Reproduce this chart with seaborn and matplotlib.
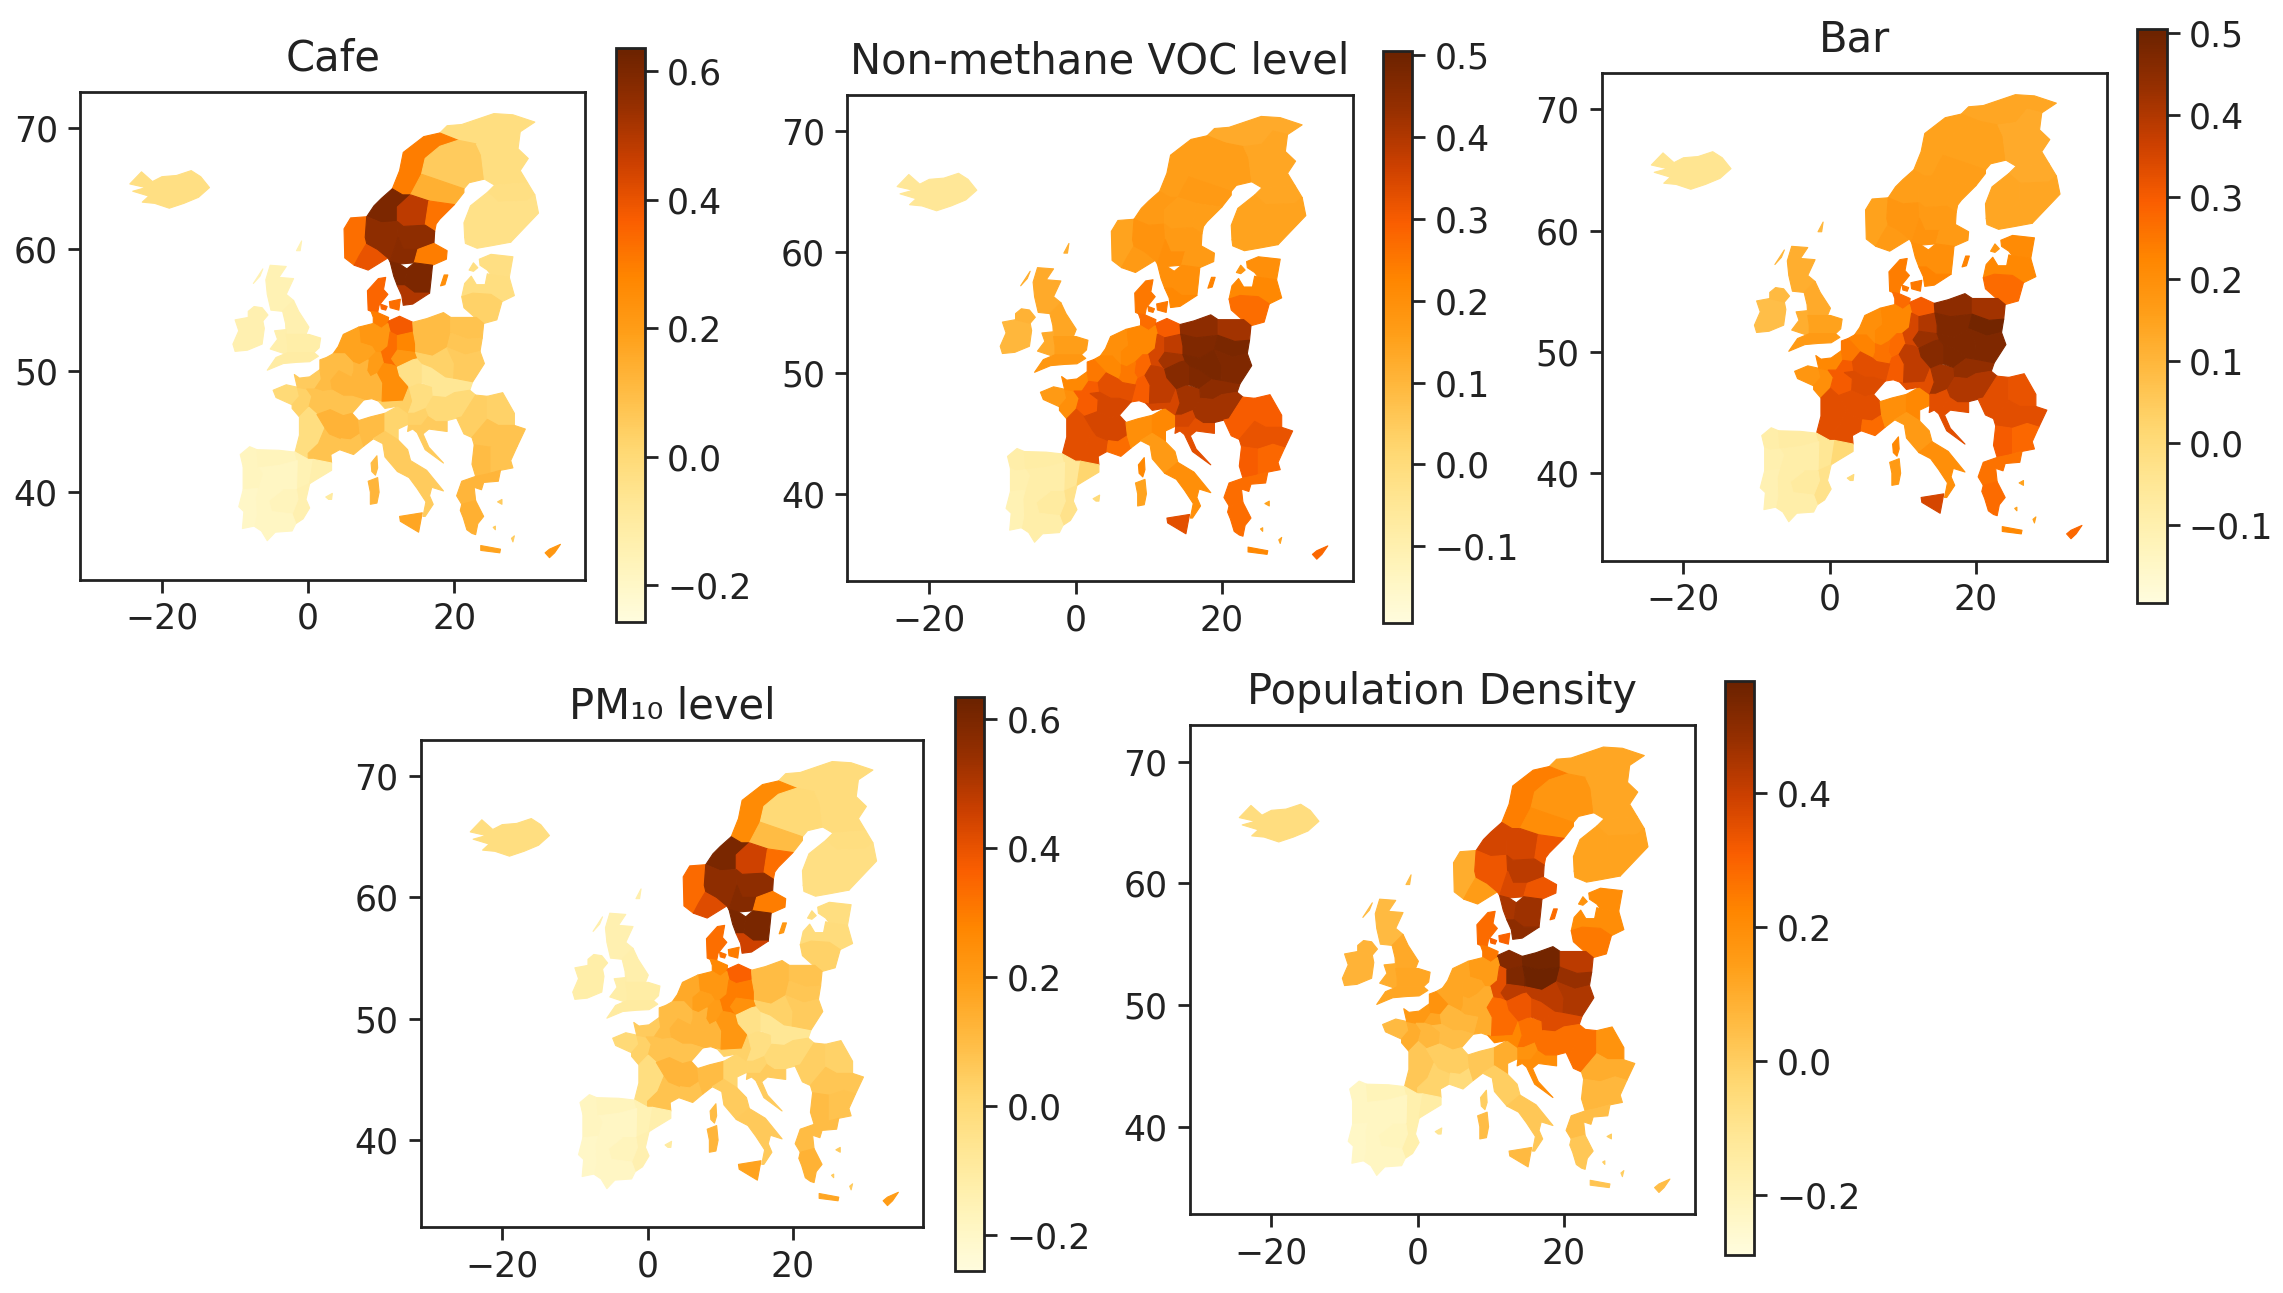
import matplotlib
matplotlib.use("Agg")
import matplotlib.pyplot as plt
from matplotlib.collections import PolyCollection
from matplotlib.colors import Normalize
import seaborn as sns

sns.set_style("ticks")
plt.rcParams['font.family'] = ['DejaVu Sans']
plt.rcParams['axes.edgecolor'] = '#222222'
plt.rcParams['xtick.color'] = '#222222'
plt.rcParams['ytick.color'] = '#222222'
plt.rcParams['text.color'] = '#222222'

# region outlines, lon / lat
outlines = {
    "iceland": [(-24.4,65.4),(-22.8,66.4),(-21.3,65.6),(-20,66.0),(-18,66.1),(-16,66.5),(-14.7,66.0),(-13.5,65.1),(-15,64.3),(-17,63.8),(-19,63.4),(-21,63.8),(-22.7,63.9),(-21.8,64.4),(-24,64.8),(-22.2,65.1)],
    "ireland": [(-10,51.6),(-8.3,51.7),(-6.3,52.2),(-6,53.5),(-6.2,54.1),(-8.2,54.4),(-10,54.2),(-9.5,53.3),(-10.3,52.2)],
    "n_ireland": [(-6.2,54.1),(-5.5,54.6),(-6.3,55.2),(-7.4,55.3),(-8.2,54.9),(-8.2,54.4)],
    "scotland": [(-5.1,55.0),(-3.5,54.9),(-2.0,55.8),(-3.0,56.3),(-2.0,57.6),(-4,57.7),(-3.0,58.6),(-5.2,58.7),(-5.8,57.5),(-5.6,56.3)],
    "n_england": [(-3.5,54.9),(-2,55.8),(-1.3,54.9),(0.1,53.6),(-0.3,53),(-3,53),(-3.1,53.9)],
    "wales": [(-3,53.4),(-4.6,53.3),(-4.2,52.6),(-5.2,51.8),(-3.2,51.4),(-2.8,51.5),(-2.8,52.2),(-3,53)],
    "midlands": [(-3,53),(-0.3,53),(0.1,53),(1.7,52.7),(1.5,51.9),(0.8,51.5),(-1.5,51.5),(-2.8,51.5),(-2.8,52.2)],
    "s_england": [(-2.8,51.5),(-1.5,51.5),(0.8,51.5),(1.4,51.2),(0.2,50.75),(-1.5,50.7),(-3.4,50.6),(-5.6,50.05),(-4.4,51.1)],
    "hebrides": [(-7.5,57.2),(-6.2,58.4),(-6.6,57.8)],
    "shetland": [(-1.6,59.9),(-0.9,60.7),(-1.1,59.9)],
    "no_finn": [(18,69.6),(19,70.2),(21,70.3),(25.4,71.2),(28,71.1),(31,70.5),(29,69.7),(27,70),(25.5,68.9),(23,68.7),(20.5,69)],
    "no_nord": [(11.5,65),(12.5,66.5),(13,68),(15.8,69.3),(18,69.6),(20.5,69),(18,68.5),(16,67.5),(15.5,66.2),(14,64.5),(12.9,64.5)],
    "no_trond": [(8,62.7),(9,63.6),(10,64.2),(11.5,65),(12.9,64.5),(14,64.5),(12.2,63.5),(12.2,62.3),(10,62.2)],
    "no_west": [(5,59.3),(4.9,61.7),(5.8,62.6),(8,62.7),(7.8,61),(8,60.5),(7,59.5),(6.3,58.7)],
    "no_south": [(6.3,58.7),(8.2,58.3),(10.9,59.3),(9.5,60),(8,60.5),(7,59.5)],
    "no_east": [(7.8,61),(8,62.7),(10,62.2),(12.2,62.3),(12.3,61),(11.2,59),(10.9,59.3),(9.5,60),(8,60.5)],
    "se_norrb": [(15.5,66.2),(16,67.5),(18,68.5),(20.5,69),(23,68.7),(23.7,67.8),(24.1,65.8),(22,65.5),(21.3,65)],
    "se_vast": [(14,64.5),(15.5,66.2),(21.3,65),(21.3,64.7),(20,63.7),(16.5,64)],
    "se_jamt": [(12.2,63.5),(14,64.5),(16.5,64),(16,62),(13,61.9),(12.2,62.3)],
    "se_vastn": [(16.5,64),(20,63.7),(18,62.5),(17.5,62.1),(17.3,61.5),(16,62)],
    "se_dala": [(12.2,62.3),(13,61.9),(16,62),(17.3,61.5),(17.2,60.5),(15,60),(13,60),(12.3,61)],
    "se_varm": [(12.3,61),(13,60),(15,60),(14.5,58.9),(12.5,58.8),(11.2,59)],
    "se_stock": [(15,60),(17.2,60.5),(19,59.9),(18.9,59.2),(17,58.7),(14.5,58.9)],
    "se_gbg": [(11.2,59),(12.5,58.8),(13.5,58.4),(13.2,57),(12.2,57),(11.7,57.8)],
    "se_ost": [(13.5,58.4),(14.5,58.9),(17,58.7),(16.8,57.5),(16.6,56.4),(14.5,56.4),(13.2,57)],
    "se_skane": [(12.2,57),(13.2,57),(14.5,56.4),(16.6,56.4),(14.3,55.5),(13,55.4),(12.8,56.2)],
    "gotland": [(18.1,57),(18.6,57.9),(19.1,57.9),(18.7,57.1)],
    "fi_lapp": [(23.7,67.8),(23,68.7),(25.5,68.9),(27,70),(29,69.7),(28.7,68.3),(30.1,67.5),(29,66.5),(30,65.5),(25.5,65.3),(24.1,65.8)],
    "fi_north": [(25.5,65.3),(30,65.5),(31,64.5),(30,64),(26,63.9),(24.5,64.7)],
    "fi_west": [(21.4,61),(21.3,62.2),(22.2,63.6),(24.5,64.7),(26,63.9),(26,62.5),(24.5,61.5)],
    "fi_east": [(26,62.5),(26,63.9),(30,64),(31,64.5),(31.5,63),(27.7,60.6),(26.5,61.3)],
    "fi_south": [(21.4,61),(24.5,61.5),(26,62.5),(26.5,61.3),(27.7,60.6),(25,60.3),(23.1,60.1),(21.5,60.5)],
    "estonia": [(23.4,59.2),(25,59.6),(28,59.4),(27.5,57.7),(25,57.9),(24.5,58.3),(23.5,58.7)],
    "saaremaa": [(22,58.3),(22.6,58.9),(23.2,58.5),(22.6,58.2)],
    "latvia": [(21,56.1),(21.4,57.2),(22.3,57.8),(23,57.1),(24.2,57.1),(24.5,58),(25,57.9),(27.5,57.7),(28.2,56.2),(26.5,55.7),(25,56.3),(22.5,56.4)],
    "lithuania": [(21,56.1),(22.5,56.4),(25,56.3),(26.5,55.7),(25.8,54.2),(24,53.9),(22.8,54.4),(21.3,55.2)],
    "jutland": [(8.2,55),(8.1,56.6),(9.6,57.6),(10.6,57.7),(10.3,56.7),(10.9,56.3),(9.7,55.4),(9.5,54.8),(8.6,54.9)],
    "zealand": [(11.1,55.7),(12.6,55.9),(12.4,55),(11.2,55.2)],
    "funen": [(9.9,55.5),(10.8,55.3),(10.6,55),(10,55.1)],
    "de_sh": [(8.6,54.9),(9.5,54.8),(11,54.4),(10.9,53.9),(10,53.5),(8.9,53.9),(8.9,54.4)],
    "de_mv": [(10.9,53.9),(11,54.1),(12.5,54.5),(14.3,54),(14.4,53.2),(12.2,52.9),(11.2,53.2)],
    "de_ni": [(6.9,53.6),(8.9,53.9),(10,53.5),(10.9,53.9),(11.2,53.2),(10.9,52),(9.9,51.5),(9.2,51.5),(8.7,52),(7.1,52.3)],
    "de_nrw": [(7.1,52.3),(8.7,52),(9.2,51.5),(8.2,50.9),(7,50.5),(6.1,50.7),(6.1,51.8)],
    "de_st": [(11.2,53.2),(12.2,52.9),(12.2,51.7),(11.4,51),(12.2,50.3),(11.4,50.5),(10.3,50.6),(9.9,51.5),(10.9,52)],
    "de_bb": [(12.2,52.9),(14.4,53.2),(14.7,52.2),(14.7,51.5),(12.2,51.7)],
    "de_sn": [(12.2,51.7),(14.7,51.5),(15,51),(14.3,50.9),(12.2,50.3),(11.4,51)],
    "de_he": [(9.2,51.5),(9.9,51.5),(10.3,50.6),(9.5,49.8),(8.5,49.5),(8,50),(8.2,50.9)],
    "de_rp": [(6.1,50.7),(7,50.5),(8.2,50.9),(8,50),(8.5,49.5),(8.2,49),(6.4,49.2),(5.8,49.5),(6.1,50)],
    "de_bw": [(8.2,49),(8.5,49.5),(9.5,49.8),(10.2,49),(10.1,47.4),(8.7,47.7),(7.6,47.6)],
    "de_by": [(9.5,49.8),(10.3,50.6),(11.4,50.5),(12.2,50.3),(12.5,49.6),(13.8,48.7),(13,47.5),(10.1,47.4),(10.2,49)],
    "nl": [(3.4,51.4),(4.1,52),(4.8,53),(6.9,53.6),(7.1,52.3),(6.1,51.8),(6.1,50.7),(5,51.4)],
    "be": [(2.5,51.1),(3.4,51.4),(5,51.4),(6.1,50.7),(6.1,50),(5.8,49.5),(4.2,50)],
    "fr_bre": [(-4.8,48.4),(-3,48.85),(-1.5,48.65),(-1.2,47.9),(-2.2,47.2),(-4.4,47.8)],
    "fr_pdl": [(-1.5,48.65),(-0.2,48.5),(0.5,47.9),(0.1,47),(-1.2,46.2),(-2.2,46.9),(-2.2,47.2),(-1.2,47.9)],
    "fr_nor": [(-1.9,49.7),(-1.2,49.4),(0.2,49.5),(1.6,50.1),(1.8,49.3),(0.9,48.5),(-0.2,48.5),(-1.5,48.65)],
    "fr_nord": [(1.6,50.1),(1.6,50.9),(2.5,51.1),(4.2,50),(3.1,49.2),(1.8,49.3)],
    "fr_idf": [(1.8,49.3),(3.1,49.2),(3.3,48.4),(2,48.3),(0.9,48.5)],
    "fr_centre": [(-0.2,48.5),(0.9,48.5),(2,48.3),(3.1,47.8),(3,46.8),(1.2,46.4),(0.1,47),(0.5,47.9)],
    "fr_est": [(3.1,49.2),(4.2,50),(5.8,49.5),(6.4,49.2),(8.2,49),(7.6,47.6),(6,47.9),(4.8,47.9),(3.3,48.4)],
    "fr_bourg": [(3.3,48.4),(4.8,47.9),(6,47.9),(7.6,47.6),(6,46.5),(4.8,46.3),(3,46.8),(3.1,47.8),(2,48.3)],
    "fr_aq": [(-1.2,46.2),(0.1,47),(1.2,46.4),(2.3,45.3),(1.4,44),(0,43.2),(0,42.7),(-1.8,43.3),(-1.2,44.7)],
    "fr_occ": [(0,43.2),(0,42.7),(3.2,42.4),(3.1,43.1),(4.3,43.5),(4.5,44.4),(2.9,44.8),(2.3,45.3),(1.4,44)],
    "fr_ra": [(1.2,46.4),(3,46.8),(4.8,46.3),(6,46.5),(6.9,45.9),(7.1,44.8),(5.8,44.3),(4.5,44.4),(2.9,44.8),(2.3,45.3)],
    "fr_paca": [(4.5,44.4),(5.8,44.3),(7.1,44.8),(7.6,43.8),(6.2,43.1),(4.3,43.5)],
    "corsica": [(8.6,42.4),(9.4,43),(9.5,42),(9.2,41.4),(8.7,41.7)],
    "es_gal": [(-9.3,43.1),(-8,43.75),(-7,43.5),(-6.8,42),(-8.2,41.9),(-8.9,42.1)],
    "es_n": [(-7,43.5),(-4,43.45),(-1.8,43.3),(-1.5,42.6),(-4,42.2),(-6.8,42)],
    "es_ara": [(-1.8,43.3),(0,42.7),(0.7,42.7),(0.2,40.7),(-1.6,40.2),(-1.5,42.6)],
    "es_cat": [(0.7,42.7),(3.2,42.4),(3.2,41.8),(1,41),(0.2,40.7)],
    "es_cyl": [(-6.8,42),(-4,42.2),(-1.5,42.6),(-1.6,40.2),(-3.5,40.2),(-6.9,40.3),(-6.3,41.5)],
    "es_val": [(0.2,40.7),(-0.3,39.4),(0.2,38.7),(-0.7,37.8),(-1.7,37.4),(-2.2,38.2),(-1.4,39.4),(-1.6,40.2)],
    "es_cm": [(-1.6,40.2),(-1.4,39.4),(-2.2,38.2),(-5,38.4),(-5.4,39.3),(-3.5,40.2)],
    "es_ext": [(-6.9,40.3),(-3.5,40.2),(-5.4,39.3),(-5,38.4),(-7.1,38.1),(-7.2,39.6)],
    "es_and": [(-7.1,38.1),(-5,38.4),(-2.2,38.2),(-1.7,37.4),(-2.2,36.8),(-4.5,36.7),(-5.6,36),(-6.4,36.8),(-7.4,37.2)],
    "balearic": [(2.4,39.6),(3.3,39.9),(3.2,39.4),(2.8,39.4)],
    "pt_n": [(-8.9,42.1),(-8.2,41.9),(-6.8,42),(-6.3,41.5),(-6.9,40.3),(-8.9,40.2)],
    "pt_s": [(-8.9,40.2),(-6.9,40.3),(-7.2,39.6),(-7.1,38.1),(-7.4,37.2),(-9,37),(-8.8,38.4),(-9.5,38.8)],
    "it_nw": [(6.9,45.9),(8.5,46.2),(10.5,46.5),(10.5,45),(8.9,44.4),(7.6,43.8),(7.1,44.8)],
    "it_ne": [(10.5,46.5),(12.3,47.1),(13.7,46.5),(13.7,45.6),(12.3,45.2),(12.3,44.3),(10.5,45)],
    "it_c": [(8.9,44.4),(10.5,45),(12.3,44.3),(13.6,43.5),(14,42.6),(12.2,41.7),(10.5,42.9),(10.2,44)],
    "it_s": [(12.2,41.7),(14,42.6),(16.2,41.8),(18.5,40.1),(16.9,40.4),(16.6,39.7),(17.1,39),(16,38),(15.7,38),(16.1,39.2),(14.9,40.3),(13.8,41.2)],
    "sardinia": [(8.2,40.9),(9.5,41.2),(9.7,40),(9.4,39.1),(8.5,39),(8.5,40)],
    "sicily": [(12.5,38),(15.6,38.3),(15.1,36.7),(12.6,37.6)],
    "at_w": [(9.6,47.5),(10.1,47.4),(13,47.5),(13.8,48.7),(14.3,47.5),(13.7,46.5),(12.3,47.1),(10.5,46.9)],
    "at_e": [(13.8,48.7),(15,49),(17,48.7),(17.1,47.9),(16.1,46.9),(14.5,46.5),(13.7,46.5),(14.3,47.5)],
    "si": [(13.7,46.5),(14.5,46.5),(16.1,46.9),(16.5,46.3),(15.5,45.5),(13.7,45.5)],
    "hr": [(15.5,45.5),(16.5,46.3),(17.5,45.9),(19,45.9),(19,45),(16.5,45.2),(15.7,44.8),(16.5,43.7),(18.5,42.4),(16,43.5),(14.9,44.9),(14.3,45.2),(13.6,45),(13.7,45.5)],
    "cz_w": [(12.2,50.3),(14.3,50.9),(15,51),(15.6,50.6),(15.6,49),(15,49),(13.8,48.7),(12.5,49.6)],
    "cz_e": [(15.6,50.6),(16.9,50.3),(18.8,49.5),(17,48.7),(15.6,49)],
    "sk": [(17,48.7),(18.8,49.5),(19.9,49.4),(22.5,49.1),(22.1,48.4),(20,48.2),(18.8,47.8),(17.1,47.9)],
    "hu": [(16.1,46.9),(17.1,47.9),(18.8,47.8),(20,48.2),(22.1,48.4),(22.9,48),(21,46.2),(20.3,46.1),(19,45.9),(17.5,45.9),(16.5,46.3)],
    "pl_pom": [(14.3,54),(16.2,54.3),(18.5,54.8),(19.5,54.4),(19.5,53.1),(16.5,52.9),(14.4,53.2)],
    "pl_ne": [(19.5,54.4),(23,54.4),(24,53.9),(23.8,52.7),(21.8,52.6),(19.5,53.1)],
    "pl_wlkp": [(14.4,53.2),(16.5,52.9),(19.5,53.1),(19,51.9),(17,51.2),(14.7,51.5),(14.7,52.2)],
    "pl_mazo": [(19.5,53.1),(21.8,52.6),(23.8,52.7),(23.5,51.6),(21.5,51.3),(19,51.9)],
    "pl_sl": [(14.7,51.5),(15,51),(15.6,50.6),(16.9,50.3),(18.8,49.5),(19.9,49.4),(20,50.6),(19,51.9),(17,51.2)],
    "pl_se": [(19,51.9),(21.5,51.3),(23.5,51.6),(24.1,50.6),(22.5,49.1),(19.9,49.4),(20,50.6)],
    "ro_w": [(20.3,46.1),(21,46.2),(22.9,48),(24.5,47.9),(24.5,46),(22.4,44.5),(21.3,44.8)],
    "ro_ne": [(24.5,47.9),(26.6,48.2),(28.2,46.5),(28.2,45.5),(26,45.5),(24.5,46)],
    "ro_s": [(22.4,44.5),(24.5,46),(26,45.5),(28.2,45.5),(29.7,45.2),(28.6,43.8),(27,44.1),(25,43.7),(22.7,43.9)],
    "bg_w": [(22.7,43.9),(25,43.7),(25,41.6),(24.5,41.5),(22.9,41.3),(22.4,42.3)],
    "bg_e": [(25,43.7),(27,44.1),(28.6,43.8),(27.7,42.6),(28,42),(26.3,41.8),(25,41.6)],
    "gr_n": [(20.3,39.7),(21,40.9),(22.9,41.3),(24.5,41.5),(26.3,41.8),(26,40.9),(24,40.8),(23.7,40.2),(22.7,40.4),(22.9,39.3),(21,39)],
    "gr_s": [(21,39),(22.9,39.3),(24,38),(23.2,37.4),(22.9,36.5),(22.4,36.6),(21.7,36.9),(21.2,37.9),(20.8,38.5)],
    "crete": [(23.6,35.6),(26.3,35.3),(26.2,35),(23.6,35.2)],
    "cyprus": [(32.4,35),(33,35.3),(34.5,35.7),(33.7,35),(33,34.6)],
    "rhodes": [(27.8,36.2),(28.2,36.4),(28,35.9)],
    "lesbos": [(25.9,39.2),(26.5,39.4),(26.5,39)],
    "naxos": [(25.3,37.1),(25.6,37.2),(25.6,36.9)],
}

cafe = [-0.03,
        -0.14, -0.14, -0.15, -0.14, -0.13, -0.12, -0.11, -0.15, -0.15,
        -0.02, 0.30, 0.60, 0.33, 0.40, 0.56,
        0.05, 0.14, 0.48, 0.32, 0.56, 0.57, 0.30, 0.60, 0.60, 0.50, 0.25,
        -0.02, -0.03, -0.04, -0.04, -0.04,
        -0.03, -0.03, -0.02, 0.03,
        0.35, 0.33, 0.35,
        0.30, 0.38, 0.22, 0.18, 0.33, 0.28, 0.22, 0.20, 0.12, 0.12, 0.25,
        0.18, 0.10,
        0.00, 0.03, 0.05, 0.10, 0.10, 0.08, 0.12, 0.08, -0.02, 0.08, 0.13, 0.08, 0.10,
        -0.18, -0.17, -0.15, -0.13, -0.19, -0.14, -0.17, -0.19, -0.19, -0.10, -0.18, -0.20,
        0.10, 0.02, 0.05, 0.05, 0.12, 0.17,
        0.04, -0.02, 0.03, 0.05,
        -0.04, -0.07, -0.07, 0.00,
        0.10, 0.08, 0.10, 0.07, 0.03, 0.05,
        0.04, 0.03, 0.08, 0.10, 0.08,
        0.12, 0.14, 0.18, 0.22, 0.05, 0.05, 0.05]

voc = [-0.05,
       0.10, 0.11, 0.13, 0.14, 0.13, 0.16, 0.18, 0.12, 0.12,
       0.13, 0.16, 0.17, 0.15, 0.17, 0.19,
       0.16, 0.17, 0.16, 0.16, 0.17, 0.20, 0.17, 0.20, 0.20, 0.22, 0.23,
       0.14, 0.14, 0.15, 0.15, 0.15,
       0.20, 0.18, 0.22, 0.27,
       0.25, 0.25, 0.25,
       0.27, 0.30, 0.22, 0.22, 0.35, 0.38, 0.42, 0.28, 0.25, 0.30, 0.38,
       0.20, 0.22,
       0.17, 0.20, 0.22, 0.25, 0.30, 0.30, 0.33, 0.35, 0.33, 0.33, 0.35, 0.27, 0.22,
       -0.09, -0.08, -0.05, 0.02, -0.09, -0.03, -0.07, -0.09, -0.09, 0.00, -0.10, -0.11,
       0.20, 0.22, 0.17, 0.20, 0.15, 0.33,
       0.35, 0.42, 0.35, 0.33,
       0.46, 0.47, 0.45, 0.42,
       0.45, 0.42, 0.47, 0.48, 0.48, 0.47,
       0.30, 0.30, 0.32, 0.30, 0.28,
       0.27, 0.27, 0.22, 0.28, 0.15, 0.15, 0.15]

bar = [-0.04,
       0.08, 0.09, 0.12, 0.13, 0.12, 0.15, 0.17, 0.10, 0.10,
       0.14, 0.15, 0.16, 0.15, 0.17, 0.18,
       0.15, 0.16, 0.16, 0.16, 0.17, 0.19, 0.17, 0.20, 0.20, 0.23, 0.23,
       0.13, 0.13, 0.14, 0.14, 0.14,
       0.21, 0.18, 0.22, 0.27,
       0.24, 0.25, 0.25,
       0.27, 0.30, 0.22, 0.22, 0.35, 0.40, 0.43, 0.27, 0.26, 0.30, 0.38,
       0.20, 0.23,
       0.18, 0.20, 0.22, 0.25, 0.30, 0.30, 0.33, 0.34, 0.33, 0.33, 0.33, 0.27, 0.22,
       -0.09, -0.08, -0.05, 0.01, -0.09, -0.03, -0.07, -0.09, -0.09, 0.00, -0.10, -0.11,
       0.20, 0.22, 0.17, 0.20, 0.17, 0.35,
       0.33, 0.42, 0.33, 0.33,
       0.46, 0.47, 0.44, 0.40,
       0.45, 0.42, 0.47, 0.49, 0.47, 0.47,
       0.33, 0.32, 0.33, 0.30, 0.28,
       0.26, 0.27, 0.22, 0.28, 0.15, 0.15, 0.15]

pm10 = [-0.02,
        -0.12, -0.12, -0.14, -0.13, -0.12, -0.11, -0.10, -0.13, -0.13,
        -0.01, 0.26, 0.60, 0.34, 0.42, 0.56,
        0.00, 0.10, 0.45, 0.33, 0.56, 0.58, 0.30, 0.60, 0.60, 0.45, 0.22,
        -0.01, -0.02, -0.03, -0.03, -0.03,
        -0.02, -0.02, -0.01, 0.03,
        0.33, 0.30, 0.32,
        0.27, 0.36, 0.22, 0.19, 0.30, 0.30, 0.24, 0.20, 0.12, 0.12, 0.22,
        0.16, 0.10,
        0.00, 0.03, 0.05, 0.10, 0.10, 0.08, 0.12, 0.08, -0.02, 0.08, 0.12, 0.08, 0.10,
        -0.18, -0.17, -0.15, -0.13, -0.19, -0.14, -0.17, -0.19, -0.19, -0.10, -0.18, -0.20,
        0.10, 0.02, 0.05, 0.06, 0.12, 0.18,
        0.03, -0.03, 0.02, 0.05,
        -0.04, -0.07, -0.07, 0.00,
        0.10, 0.08, 0.10, 0.07, 0.03, 0.05,
        0.04, 0.03, 0.07, 0.10, 0.08,
        0.10, 0.13, 0.17, 0.20, 0.05, 0.05, 0.05]

pop_density = [-0.06,
               0.08, 0.08, 0.06, 0.11, 0.10, 0.12, 0.12, 0.05, 0.05,
               0.12, 0.24, 0.38, 0.10, 0.15, 0.33,
               0.17, 0.20, 0.38, 0.33, 0.42, 0.37, 0.33, 0.45, 0.47, 0.50, 0.28,
               0.12, 0.12, 0.13, 0.13, 0.13,
               0.20, 0.18, 0.20, 0.25,
               0.28, 0.30, 0.30,
               0.25, 0.52, 0.15, 0.12, 0.35, 0.53, 0.42, 0.10, 0.10, 0.10, 0.28,
               0.12, 0.12,
               0.06, 0.10, 0.16, 0.18, 0.12, 0.07, 0.07, 0.05, 0.02, -0.02, 0.00, -0.05, 0.00,
               -0.22, -0.20, -0.17, -0.15, -0.22, -0.17, -0.21, -0.22, -0.22, -0.10, -0.22, -0.23,
               0.02, 0.10, 0.00, 0.02, 0.05, 0.06,
               0.22, 0.27, 0.18, 0.20,
               0.33, 0.36, 0.36, 0.27,
               0.55, 0.42, 0.56, 0.48, 0.42, 0.44,
               0.27, 0.18, 0.10, 0.07, 0.07,
               0.05, 0.02, 0.03, 0.05, 0.00, 0.00, 0.00]

# title, values, colour range, colourbar ticks
panel_titles = ["Cafe", "Non-methane VOC level", "Bar", "PM₁₀ level", "Population Density"]
panel_values = [cafe, voc, bar, pm10, pop_density]
panel_ranges = [(-0.257, 0.636), (-0.194, 0.505), (-0.195, 0.505), (-0.256, 0.634), (-0.289, 0.567)]
panel_ticks = [[-0.2, 0.0, 0.2, 0.4, 0.6],
               [-0.1, 0.0, 0.1, 0.2, 0.3, 0.4, 0.5],
               [-0.1, 0.0, 0.1, 0.2, 0.3, 0.4, 0.5],
               [-0.2, 0.0, 0.2, 0.4, 0.6],
               [-0.2, 0.0, 0.2, 0.4]]

# colour ramp sampled from the reference's colourbar
ramp_colors = ["#FFFCDD", "#FFF4BA", "#FFE898", "#FFD872", "#FFBC44", "#FFA01A",
               "#FF8600", "#FA5E00", "#CC4000", "#962F00", "#6B2200"]

W, H = 1568.0, 888.0

# map box (x0, y0, x1, y1) and colourbar box, in the reference's picture coordinates
map_boxes = [(55, 63, 402, 398), (582, 65, 929, 399), (1100, 50, 1447, 385),
             (289, 508, 634, 843), (817, 498, 1164, 834)]
bar_boxes = [(423, 33, 443, 427), (950, 35, 970, 428), (1468, 20, 1488, 414),
             (656, 479, 676, 873), (1185, 468, 1205, 862)]


def add_axes(fig, box):
    x0, y0, x1, y1 = box
    return fig.add_axes([x0 / W, 1 - y1 / H, (x1 - x0) / W, (y1 - y0) / H])


cmap = sns.blend_palette(ramp_colors, n_colors=256, as_cmap=True)
fig = plt.figure(figsize=(22.83, 12.93), dpi=100)
rings = list(outlines.values())

for i in range(5):
    ax = add_axes(fig, map_boxes[i])
    cax = add_axes(fig, bar_boxes[i])
    assert len(panel_values[i]) == len(rings)

    coll = PolyCollection(rings, array=panel_values[i], cmap=cmap,
                          norm=Normalize(*panel_ranges[i]), edgecolors='face', linewidths=0.8)
    ax.add_collection(coll)
    ax.set_xlim(-31.2, 37.9)
    ax.set_ylim(32.8, 73.0)
    ax.set_xticks([-20, 0, 20])
    ax.set_yticks([40, 50, 60, 70])
    ax.tick_params(labelsize=25, length=9, width=2, pad=7)
    ax.set_title(panel_titles[i], fontsize=30, pad=15)
    for sp in ax.spines.values():
        sp.set_linewidth(2)

    cb = fig.colorbar(coll, cax=cax, ticks=panel_ticks[i])
    cb.ax.tick_params(labelsize=25, length=9, width=2, pad=7)
    cb.outline.set_linewidth(2)

fig.savefig("out.png", dpi=100)
